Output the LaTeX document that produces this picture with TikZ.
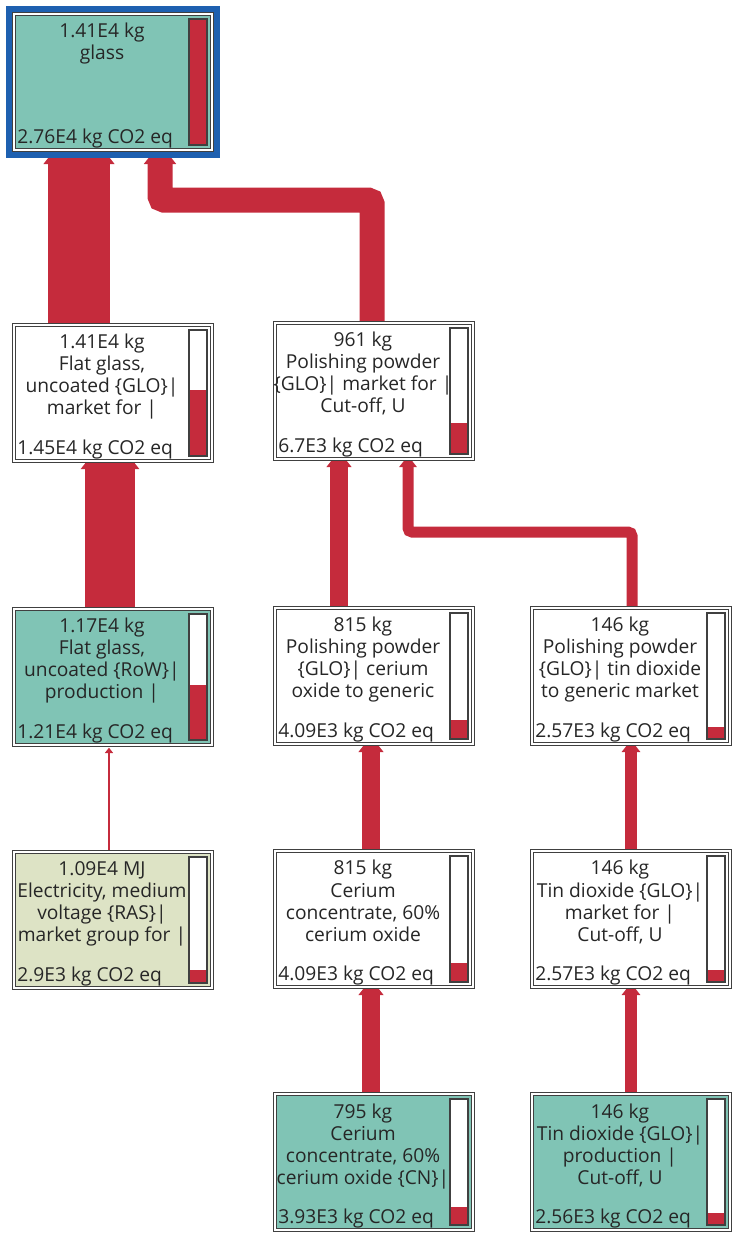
\documentclass[tikz,border=0pt]{standalone}
\usepackage{fontspec}
\setmainfont{Open Sans}
\usepackage{tikz}
\usetikzlibrary{arrows.meta,calc}
\definecolor{flowred}{RGB}{197,43,60}
\definecolor{procgreen}{RGB}{128,196,181}
\definecolor{elecpale}{RGB}{221,227,197}
\definecolor{rimblue}{RGB}{30,96,176}
\pgfdeclarelayer{background}
\pgfsetlayers{background,main}
% one process box: name, centre, fill, text, CO2 eq, share of the bar
\newcommand{\procnode}[6]{%
\node[procbox, fill=#3] (#1) at (#2) {};
\node[proctext] (#1-txt) at ($(#1.north west)+(88,9)$) {#4};
\node[co2text] (#1-co2) at ($(#1.south west)+(3,-7)$) {#5};
\node[barbox] (#1-bar) at ($(#1.east)+(-14,0)$) {};
\fill[flowred] (#1-bar.south west) rectangle ($(#1-bar.south east)!#6!(#1-bar.north east)$);
\draw[bardraw] (#1-bar.south west) rectangle (#1-bar.north east);
}

\begin{document}
\begin{tikzpicture}[x=0.5pt, y=-0.5pt,
  procbox/.style={rectangle, draw=black!75, double=white, double distance=0.6pt, line width=0.5pt, minimum width=99pt, minimum height=68pt, inner sep=0pt, outer sep=0pt},
  proctext/.style={anchor=north, align=center, inner sep=0pt, font=\fontsize{9.6}{11}\selectfont, text=black!85},
  co2text/.style={anchor=base west, inner sep=0pt, font=\fontsize{9.6}{11}\selectfont, text=black!85},
  barbox/.style={rectangle, fill=white, minimum width=9pt, minimum height=63pt, inner sep=0pt, outer sep=0pt},
  bardraw/.style={draw=black!75, line width=0.6pt},
  rim/.style={draw=rimblue, line width=3pt},
  flow/.style={draw=flowred, line width=#1, rounded corners=2pt, -{Triangle[length=2pt 0.67, width=3pt 1]}, shorten >={2pt-0.67*#1}}]
\useasboundingbox (0,0) rectangle (734,1237);

\procnode{glass}{113,82}{procgreen}{1.41E4 kg\\glass}{2.76E4 kg CO2 eq}{1}
\draw[rim] ([xshift=-2.3pt,yshift=-2.3pt]glass.south west) rectangle ([xshift=2.3pt,yshift=2.3pt]glass.north east);

\procnode{glo}{113,393}{white}{1.41E4 kg\\Flat glass,\\uncoated {\{GLO\}}|\\market for |}{1.45E4 kg CO2 eq}{0.525}
\procnode{pp961}{374,391}{white}{961 kg\\Polishing powder\\{\{GLO\}}| market for |\\Cut-off, U}{6.7E3 kg CO2 eq}{0.243}

\procnode{row}{113,677}{procgreen}{1.17E4 kg\\Flat glass,\\uncoated {\{RoW\}}|\\production |}{1.21E4 kg CO2 eq}{0.438}
\procnode{pp815}{374,676}{white}{815 kg\\Polishing powder\\{\{GLO\}}| cerium\\oxide to generic}{4.09E3 kg CO2 eq}{0.148}
\procnode{pp146}{631,676}{white}{146 kg\\Polishing powder\\{\{GLO\}}| tin dioxide\\to generic market}{2.57E3 kg CO2 eq}{0.093}

\procnode{elec}{113,920}{elecpale}{1.09E4 MJ\\Electricity, medium\\voltage {\{RAS\}}|\\market group for |}{2.9E3 kg CO2 eq}{0.105}
\procnode{ce815}{374,919}{white}{815 kg\\Cerium\\concentrate, 60\%\\cerium oxide}{4.09E3 kg CO2 eq}{0.148}
\procnode{tinm}{631,919}{white}{146 kg\\Tin dioxide {\{GLO\}}|\\market for |\\Cut-off, U}{2.57E3 kg CO2 eq}{0.093}

\procnode{ceCN}{374,1162}{procgreen}{795 kg\\Cerium\\concentrate, 60\%\\cerium oxide {\{CN\}}|}{3.93E3 kg CO2 eq}{0.142}
\procnode{tinp}{631,1162}{procgreen}{146 kg\\Tin dioxide {\{GLO\}}|\\production |\\Cut-off, U}{2.56E3 kg CO2 eq}{0.093}

% flows, under the boxes
\begin{pgfonlayer}{background}
\draw[flow=31pt] ($(glo.north)+(-34,0)$) -- ($(glass.south)+(-34,6)$);
\draw[flow=12.5pt] ($(pp961.north)+(-2,0)$) -- ++(0,-123) -| ($(glass.south)+(47,6)$);
\draw[flow=25pt] ($(row.north)+(-3,0)$) -- ($(glo.south)+(-3,0)$);
\draw[flow=1pt] ($(elec.north)+(-4,0)$) -- ($(row.south)+(-4,0)$);
\draw[flow=9pt] ($(pp815.north)+(-35,0)$) -- ($(pp961.south)+(-35,0)$);
\draw[flow=5.5pt] ($(pp146.north)+(1,0)$) -- ++(0,-76) -| ($(pp961.south)+(34,0)$);
\draw[flow=9pt] ($(ce815.north)+(-3,0)$) -- ($(pp815.south)+(-3,0)$);
\draw[flow=9pt] ($(ceCN.north)+(-3,0)$) -- ($(ce815.south)+(-3,0)$);
\draw[flow=6pt] (tinm.north) -- (pp146.south);
\draw[flow=6pt] (tinp.north) -- (tinm.south);
\end{pgfonlayer}
\end{tikzpicture}
\end{document}
